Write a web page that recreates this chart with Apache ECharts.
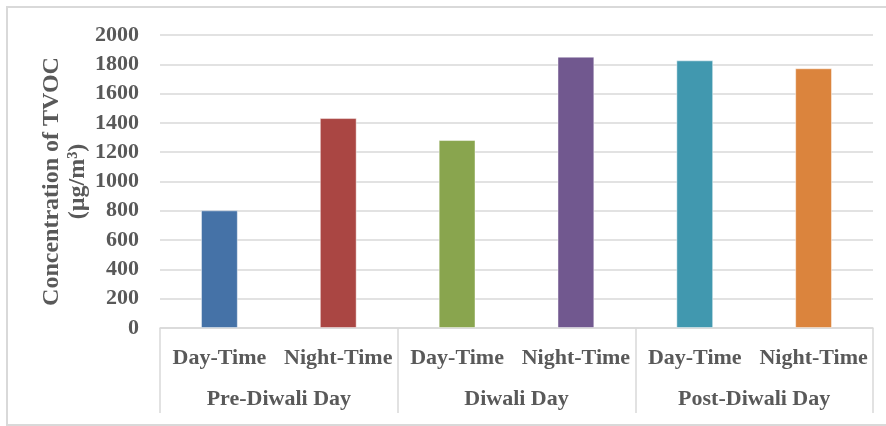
<!DOCTYPE html>
<html>
<head>
<meta charset="utf-8">
<script src="https://cdn.jsdelivr.net/npm/echarts@6/dist/echarts.min.js"></script>
<style>
html,body{margin:0;padding:0;background:#fff;}
#chart{width:886px;height:426px;}
</style>
</head>
<body>
<div id="chart"></div>
<script>
const categories = ['Day-Time', 'Night-Time', 'Day-Time', 'Night-Time', 'Day-Time', 'Night-Time'];
const groups = ['Pre-Diwali Day', 'Diwali Day', 'Post-Diwali Day'];
const values = [803, 1433, 1283, 1852, 1827, 1773];
const yTicks = { min: 0, max: 2000, interval: 200 };
const yTitle = 'Concentration of TVOC\n(µg/m³)';
const palette = ['#4572A7', '#AA4643', '#89A54E', '#71588F', '#4198AF', '#DB843D'];

const font = '"Liberation Serif", "Times New Roman", serif';
const textColor = '#595959';
const lineColor = '#d9d9d9';

const chart = echarts.init(document.getElementById('chart'), null, { renderer: 'canvas' });
chart.setOption({
  animation: false,
  backgroundColor: '#fff',
  graphic: [{
    type: 'rect',
    silent: true,
    shape: { x: 7, y: 7, width: 900, height: 418 },
    style: { fill: 'none', stroke: lineColor, lineWidth: 2 }
  }],
  grid: { left: 160, right: 13, top: 35, bottom: 98 },
  xAxis: [{
    type: 'category',
    data: categories,
    position: 'bottom',
    axisLine: { show: true, lineStyle: { color: lineColor, width: 1.5 } },
    axisTick: { show: false },
    axisLabel: {
      interval: 0, margin: 19,
      fontFamily: font, fontSize: 22, fontWeight: 'bold', color: textColor
    }
  }, {
    type: 'category',
    data: groups,
    position: 'bottom',
    axisLine: { show: false },
    axisTick: { show: true, length: 85, lineStyle: { color: lineColor, width: 1.5 } },
    axisLabel: {
      interval: 0, margin: 60,
      fontFamily: font, fontSize: 22, fontWeight: 'bold', color: textColor
    },
    splitLine: { show: false }
  }],
  yAxis: {
    type: 'value',
    min: yTicks.min, max: yTicks.max, interval: yTicks.interval,
    name: yTitle,
    nameLocation: 'middle',
    nameGap: 69,
    nameMoveOverlap: false,
    nameTextStyle: {
      fontFamily: font, fontSize: 24, fontWeight: 'bold', color: textColor, lineHeight: 26
    },
    axisLine: { show: false },
    axisTick: { show: false },
    axisLabel: {
      margin: 21,
      formatter: function (v) { return String(v); },
      fontFamily: font, fontSize: 22, fontWeight: 'bold', color: textColor
    },
    splitLine: { lineStyle: { color: lineColor, width: 1.5 } }
  },
  series: [{
    type: 'bar',
    xAxisIndex: 0,
    barWidth: '31%',
    data: values.map(function (v, i) {
      return {
        value: v,
        itemStyle: { color: palette[i], borderColor: 'rgba(255,255,255,0.45)', borderWidth: 1 }
      };
    })
  }]
});
</script>
</body>
</html>
